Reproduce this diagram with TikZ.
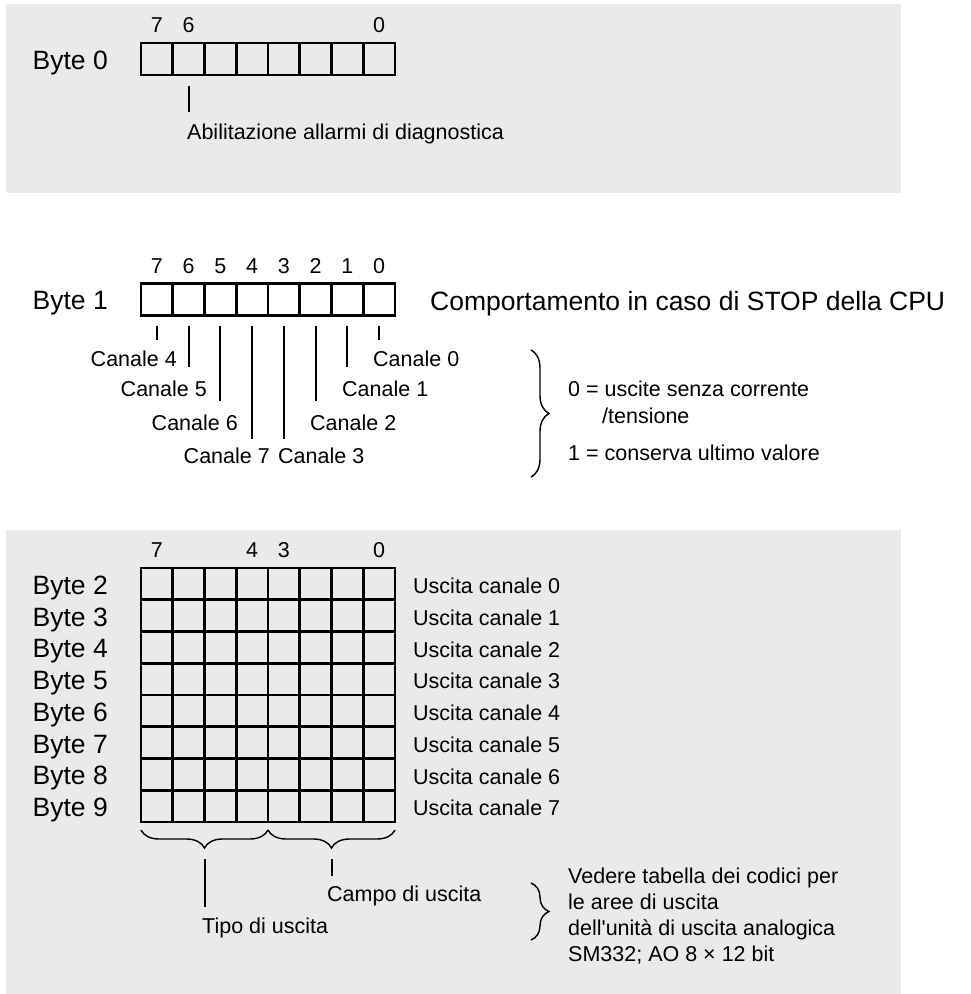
\documentclass[tikz,border=0pt]{standalone}
\usepackage{fontspec}
\setmainfont{Liberation Sans}[Ligatures=TeXOff]
\usetikzlibrary{positioning, decorations.pathreplacing}
\definecolor{panelgray}{RGB}{234,234,234}

\begin{document}
\begin{tikzpicture}[
    x=1pt, y=-1pt,
    node distance=10pt,
    panel/.style={fill=panelgray},
    cell/.style={draw, line width=2.6pt, minimum width=31.75pt, minimum height=31.75pt, inner sep=0pt, outer sep=0pt},
    big/.style={font=\fontsize{26.5}{31}\selectfont, inner sep=0pt, yshift=-4pt},
    txt/.style={font=\fontsize{21.5}{26}\selectfont, inner sep=0pt},
    tick/.style={line width=2pt},
    brc/.style={decorate, decoration={brace, amplitude=18pt}, line width=1.4pt}
]
\useasboundingbox (0,0) rectangle (971,994);
\fill[panel] (6,4) rectangle (901,193);
\fill[panel] (6,530) rectangle (901,994);

% Byte 0
\foreach \b in {0,...,7}
  \node[cell] (r0-\b) at ({156.875+31.75*(7-\b)}, 59) {};
\node[big, left=33pt of r0-7] (byte0) {Byte 0};
\foreach \b in {7,6,0}
  \node[txt, above=of r0-\b] (n0-\b) {\b};
\draw[tick] ([yshift=-11pt]r0-6.south) -- ++(0,26);
\node[txt, anchor=west] (abil) at (187,134) {Abilitazione allarmi di diagnostica};

% Byte 1
\foreach \b in {0,...,7} {
  \node[cell] (r1-\b) at ({156.875+31.75*(7-\b)}, 299.5) {};
  \node[txt, above=of r1-\b] (n1-\b) {\b};
}
\node[big, left=33pt of r1-7] (byte1) {Byte 1};
\node[big, right=35pt of r1-0] (stop) {Comportamento in caso di STOP della CPU};
\foreach \b/\len in {7/14, 6/41, 5/75, 4/113, 3/113, 2/75, 1/41, 0/14}
  \draw[tick] ([yshift=-11pt]r1-\b.south) -- ++(0,\len);
\node[txt, anchor=east] (ch4) at (177,359) {Canale 4};
\node[txt, anchor=east] (ch5) at (207,389) {Canale 5};
\node[txt, anchor=east] (ch6) at (238,423) {Canale 6};
\node[txt, anchor=east] (ch7) at (270,456) {Canale 7};
\node[txt, anchor=west] (ch3) at (278,456) {Canale 3};
\node[txt, anchor=west] (ch2) at (310,423) {Canale 2};
\node[txt, anchor=west] (ch1) at (342,389) {Canale 1};
\node[txt, anchor=west] (ch0) at (373,359) {Canale 0};
\draw[brc] (531,350) -- (531,477);
\node[txt, anchor=west] (zero) at (568,389) {0 = uscite senza corrente};
\node[txt, anchor=west] (tens) at (602,416) {/tensione};
\node[txt, anchor=west] (one) at (568,453) {1 = conserva ultimo valore};

% Byte 2 ... Byte 9
\foreach \r in {2,...,9} {
  \foreach \b in {0,...,7}
    \node[cell] (g\r-\b) at ({156.875+31.75*(7-\b)}, {583.875+31.75*(\r-2)}) {};
  \node[big, left=33pt of g\r-7] (byte\r) {Byte \r};
  \pgfmathtruncatemacro{\ch}{\r-2}
  \node[txt, right=18pt of g\r-0, yshift=-2pt] (out\r) {Uscita canale \ch};
}
\foreach \b in {7,4,3,0}
  \node[txt, above=of g2-\b] (n2-\b) {\b};
\draw[brc, decoration={raise=8pt}] (g9-4.south east) -- (g9-7.south west);
\draw[brc, decoration={raise=8pt}] (g9-0.south east) -- (g9-3.south west);
\draw[tick] ([yshift=-37pt]g9-6.south east) -- ++(0,48);
\draw[tick] ([yshift=-37pt]g9-2.south east) -- ++(0,17);
\node[txt, anchor=west] (campo) at (327,896) {Campo di uscita};
\node[txt, anchor=west] (tipo) at (202,928) {Tipo di uscita};
\draw[brc] (531,883) -- (531,940);
\node[txt, anchor=west, align=left] (vedere) at (568,916) {Vedere tabella dei codici per\\le aree di uscita\\dell'unità di uscita analogica\\SM332; AO 8 × 12 bit};
\end{tikzpicture}
\end{document}
